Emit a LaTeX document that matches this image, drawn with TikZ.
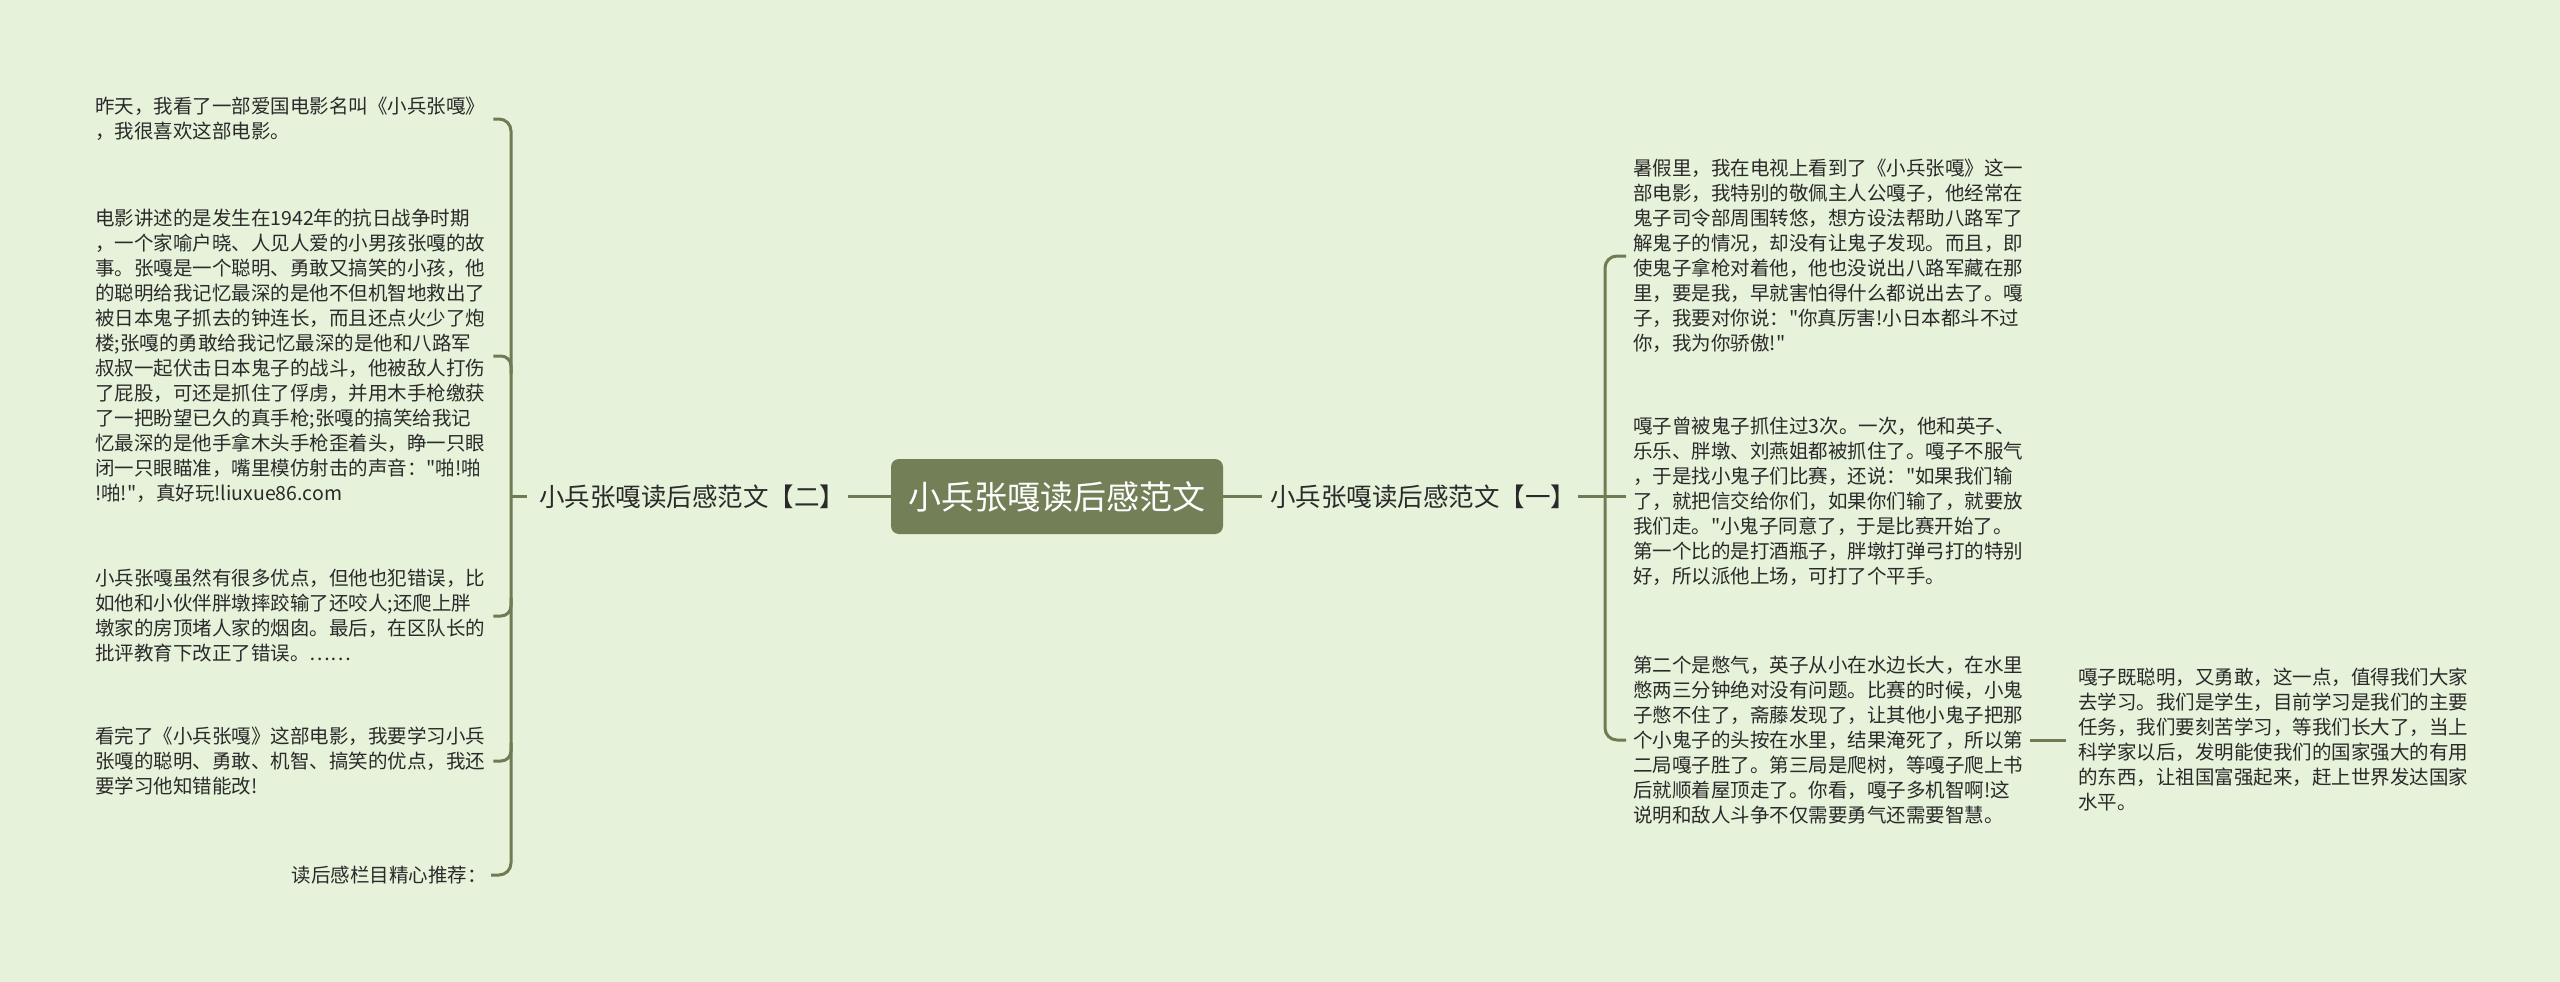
\documentclass[tikz,border=0pt]{standalone}
\usepackage{fontspec}
\newfontfamily\cjk{Noto Sans CJK SC}
\definecolor{bgc}{HTML}{E6F2DA}
\definecolor{linec}{HTML}{6E7B53}
\definecolor{rootc}{HTML}{737F56}
\definecolor{txtc}{HTML}{2A2A2A}
\tikzset{
  conn/.style={draw=linec, line width=3pt},
  leaf/.style={inner sep=0pt, text width=392pt, align=left, text=txtc, font=\cjk\fontsize{19.5pt}{25pt}\selectfont},
  branch/.style={inner xsep=0pt, inner ysep=4pt, align=center, text=txtc, font=\cjk\fontsize{25.5pt}{30pt}\selectfont},
  rootbox/.style={fill=rootc, rounded corners=8pt, text=white, minimum width=332pt, minimum height=75pt, inner sep=0pt, font=\cjk\fontsize{33pt}{38pt}\selectfont}
}
\begin{document}
\begin{tikzpicture}[x=1pt,y=-1pt]
\fill[bgc] (0,0) rectangle (2560,982);
\useasboundingbox (0,0) rectangle (2560,982);

\node[rootbox] (root) at (1057,496.5) {小兵张嘎读后感范文};
\node[branch, minimum width=312pt] (b2) at (692,496.5) {小兵张嘎读后感范文【二】};
\node[branch, minimum width=310pt] (b1) at (1423,496.5) {小兵张嘎读后感范文【一】};

\coordinate (lb) at (511,496.5);
\coordinate (rb) at (1605,496.5);

% left leaves
\node[leaf, anchor=west] (L1) at (95,119) {昨天，我看了一部爱国电影名叫《小兵张嘎》\\，我很喜欢这部电影。};
\node[leaf, anchor=west] (L2) at (95,356) {电影讲述的是发生在1942年的抗日战争时期\\，一个家喻户晓、人见人爱的小男孩张嘎的故\\事。张嘎是一个聪明、勇敢又搞笑的小孩，他\\的聪明给我记忆最深的是他不但机智地救出了\\被日本鬼子抓去的钟连长，而且还点火少了炮\\楼;张嘎的勇敢给我记忆最深的是他和八路军\\叔叔一起伏击日本鬼子的战斗，他被敌人打伤\\了屁股，可还是抓住了俘虏，并用木手枪缴获\\了一把盼望已久的真手枪;张嘎的搞笑给我记\\忆最深的是他手拿木头手枪歪着头，睁一只眼\\闭一只眼瞄准，嘴里模仿射击的声音："啪!啪\\!啪!"，真好玩!liuxue86.com};
\node[leaf, anchor=west] (L3) at (95,616) {小兵张嘎虽然有很多优点，但他也犯错误，比\\如他和小伙伴胖墩摔跤输了还咬人;还爬上胖\\墩家的房顶堵人家的烟囱。最后，在区队长的\\批评教育下改正了错误。……};
\node[leaf, anchor=west] (L4) at (95,761) {看完了《小兵张嘎》这部电影，我要学习小兵\\张嘎的聪明、勇敢、机智、搞笑的优点，我还\\要学习他知错能改!};
\node[leaf, anchor=east, text width=, align=right] (L5) at (487,875) {读后感栏目精心推荐：};

% right leaves
\node[leaf, anchor=west] (RA) at (1633,256) {暑假里，我在电视上看到了《小兵张嘎》这一\\部电影，我特别的敬佩主人公嘎子，他经常在\\鬼子司令部周围转悠，想方设法帮助八路军了\\解鬼子的情况，却没有让鬼子发现。而且，即\\使鬼子拿枪对着他，他也没说出八路军藏在那\\里，要是我，早就害怕得什么都说出去了。嘎\\子，我要对你说："你真厉害!小日本都斗不过\\你，我为你骄傲!"};
\node[leaf, anchor=west] (RB) at (1633,501) {嘎子曾被鬼子抓住过3次。一次，他和英子、\\乐乐、胖墩、刘燕姐都被抓住了。嘎子不服气\\，于是找小鬼子们比赛，还说："如果我们输\\了，就把信交给你们，如果你们输了，就要放\\我们走。"小鬼子同意了，于是比赛开始了。\\第一个比的是打酒瓶子，胖墩打弹弓打的特别\\好，所以派他上场，可打了个平手。};
\node[leaf, anchor=west] (RC) at (1633,740) {第二个是憋气，英子从小在水边长大，在水里\\憋两三分钟绝对没有问题。比赛的时候，小鬼\\子憋不住了，斋藤发现了，让其他小鬼子把那\\个小鬼子的头按在水里，结果淹死了，所以第\\二局嘎子胜了。第三局是爬树，等嘎子爬上书\\后就顺着屋顶走了。你看，嘎子多机智啊!这\\说明和敌人斗争不仅需要勇气还需要智慧。};
\node[leaf, anchor=west] (RD) at (2078,740) {嘎子既聪明，又勇敢，这一点，值得我们大家\\去学习。我们是学生，目前学习是我们的主要\\任务，我们要刻苦学习，等我们长大了，当上\\科学家以后，发明能使我们的国家强大的有用\\的东西，让祖国富强起来，赶上世界发达国家\\水平。};

% main connectors
\draw[conn] (b2.east) -- (root.west);
\draw[conn] (root.east) -- ([xshift=-6pt]b1.west);
\draw[conn] (lb) -- ([xshift=-9pt]b2.west);
\draw[conn] (b1.east) -- (rb);

% left bracket
\draw[conn, rounded corners=12pt] ([xshift=6pt]L1.east) -| (lb) |- ([xshift=4pt]L5.east);
\draw[conn, rounded corners=10pt] ([xshift=6pt]L2.east) -- (L2.east -| lb) -- ++(0,18);
\draw[conn, rounded corners=10pt] ([xshift=6pt]L3.east) -- (L3.east -| lb) -- ++(0,-18);
\draw[conn, rounded corners=10pt] ([xshift=6pt]L4.east) -- (L4.east -| lb) -- ++(0,-18);

% right bracket
\draw[conn, rounded corners=12pt] ([xshift=-7pt]RA.west) -| (rb) |- ([xshift=-7pt]RC.west);
\draw[conn] (rb) -- ([xshift=-7pt]RB.west |- rb);

% C to D
\draw[conn] ([xshift=5pt]RC.east) -- ([xshift=-12pt]RD.west);
\end{tikzpicture}
\end{document}
